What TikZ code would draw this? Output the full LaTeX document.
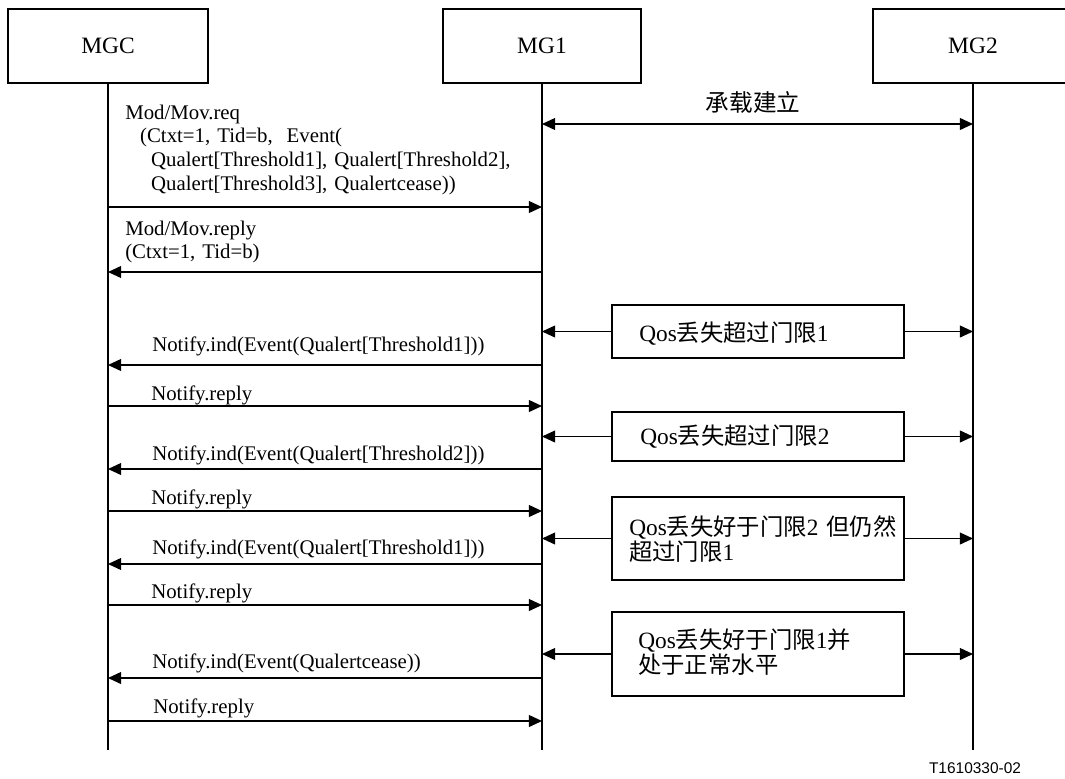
\documentclass[tikz,border=0pt]{standalone}
\usepackage{fontspec}
\setmainfont{Liberation Serif}
\newfontfamily\cjk{Noto Sans CJK SC}
\newfontfamily\figfont{Liberation Sans}
\usetikzlibrary{arrows.meta,calc}

\newcommand{\zh}[1]{{\cjk #1}}

\tikzset{
	entity/.style={draw, line width=0.8pt, minimum width=5cm, minimum height=1.85cm, inner sep=0pt, font=\fontsize{16.7}{20}\selectfont},
	lifeline/.style={line width=0.8pt},
	msg/.style={line width=0.8pt, -{Triangle[length=0.33cm,width=0.3cm]}},
	both/.style={line width=0.8pt, {Triangle[length=0.33cm,width=0.3cm]}-{Triangle[length=0.33cm,width=0.3cm]}},
	msglabel/.style={anchor=base west, inner sep=0pt, align=left, font=\fontsize{14.8}{17}\selectfont},
	evbox/.style={draw, line width=0.8pt, minimum width=7.3cm, inner sep=0pt},
	evlabel/.style={anchor=base west, inner sep=0pt, align=left, font=\fontsize{16.6}{18.4}\selectfont},
}

\begin{document}
\begin{tikzpicture}[x=0.025cm, y=-0.025cm]
	\useasboundingbox (0,0) rectangle (1065,778);

	% entities and lifelines
	\node[entity] (mgc) at (108,46) {MGC};
	\node[entity, minimum width=4.95cm] (mg1) at (542,46) {MG1};
	\node[entity] (mg2) at (973,46) {MG2};
	\foreach \e in {mgc,mg1,mg2} {
		\coordinate (\e-end) at (\e |- 0,750);
		\draw[lifeline] (\e) -- (\e-end);
	}

	% bearer setup
	\coordinate (bear-l) at (mg1 |- 0,124);
	\coordinate (bear-r) at (mg2 |- 0,124);
	\draw[both] (bear-l) -- (bear-r);
	\node[anchor=base, inner sep=0pt, font=\fontsize{16.8}{20}\selectfont] (bear) at (753,111) {\zh{承载建立}};

	% messages between MGC and MG1
	\foreach \y/\src/\dst [count=\i] in {207/mgc/mg1, 272/mg1/mgc, 365/mg1/mgc, 406/mgc/mg1, 469/mg1/mgc, 511/mgc/mg1, 564/mg1/mgc, 605/mgc/mg1, 678/mg1/mgc, 721/mgc/mg1} {
		\coordinate (m\i-s) at (\src |- 0,\y);
		\coordinate (m\i-d) at (\dst |- 0,\y);
		\draw[msg] (m\i-s) -- (m\i-d);
	}

	\node[msglabel, text width=10cm] (req) at (125,119) {Mod/Mov.req\\\hspace*{10.6pt}(Ctxt=1, Tid=b,\ \ Event(\\\hspace*{18.4pt}Qualert[Threshold1], Qualert[Threshold2],\\\hspace*{18.4pt}Qualert[Threshold3], Qualertcease))};
	\node[msglabel, text width=6cm] (reply) at (125,235) {Mod/Mov.reply\\(Ctxt=1, Tid=b)};
	\node[msglabel] (ind1) at (152,351) {Notify.ind(Event(Qualert[Threshold1]))};
	\node[msglabel] (rep1) at (151,400) {Notify.reply};
	\node[msglabel] (ind2) at (152,460) {Notify.ind(Event(Qualert[Threshold2]))};
	\node[msglabel] (rep2) at (151,504) {Notify.reply};
	\node[msglabel] (ind3) at (152,554) {Notify.ind(Event(Qualert[Threshold1]))};
	\node[msglabel] (rep3) at (151,598) {Notify.reply};
	\node[msglabel] (ind4) at (152,668) {Notify.ind(Event(Qualertcease))};
	\node[msglabel] (rep4) at (153,713) {Notify.reply};

	% QoS events at MG1/MG2
	\node[evbox, minimum height=1.325cm] (ev1) at (758,331.5) {};
	\node[evbox, minimum height=1.225cm] (ev2) at (758,436.5) {};
	\node[evbox, minimum height=2.075cm] (ev3) at (758,538.5) {};
	\node[evbox, minimum height=2.1cm] (ev4) at (758,654) {};
	\foreach \b in {ev1,ev2,ev3,ev4} {
		\draw[msg] (\b.west) -- (mg1 |- \b.west);
		\draw[msg] (\b.east) -- (mg2 |- \b.east);
	}

	\node[evlabel] (ev1-t) at (639,341) {Qos\zh{丢失超过门限}1};
	\node[evlabel] (ev2-t) at (640,444) {Qos\zh{丢失超过门限}2};
	\node[evlabel, text width=7cm] (ev3-t) at (629,535) {Qos\zh{丢失好于门限}2 \zh{但仍然}\\\zh{超过门限}1};
	\node[evlabel, text width=7cm] (ev4-t) at (638,648) {Qos\zh{丢失好于门限}1\zh{并}\\\zh{处于正常水平}};

	\node[anchor=base, inner sep=0pt, font=\figfont\fontsize{11}{13}\selectfont] (figno) at (975,773) {T1610330-02};
\end{tikzpicture}
\end{document}
